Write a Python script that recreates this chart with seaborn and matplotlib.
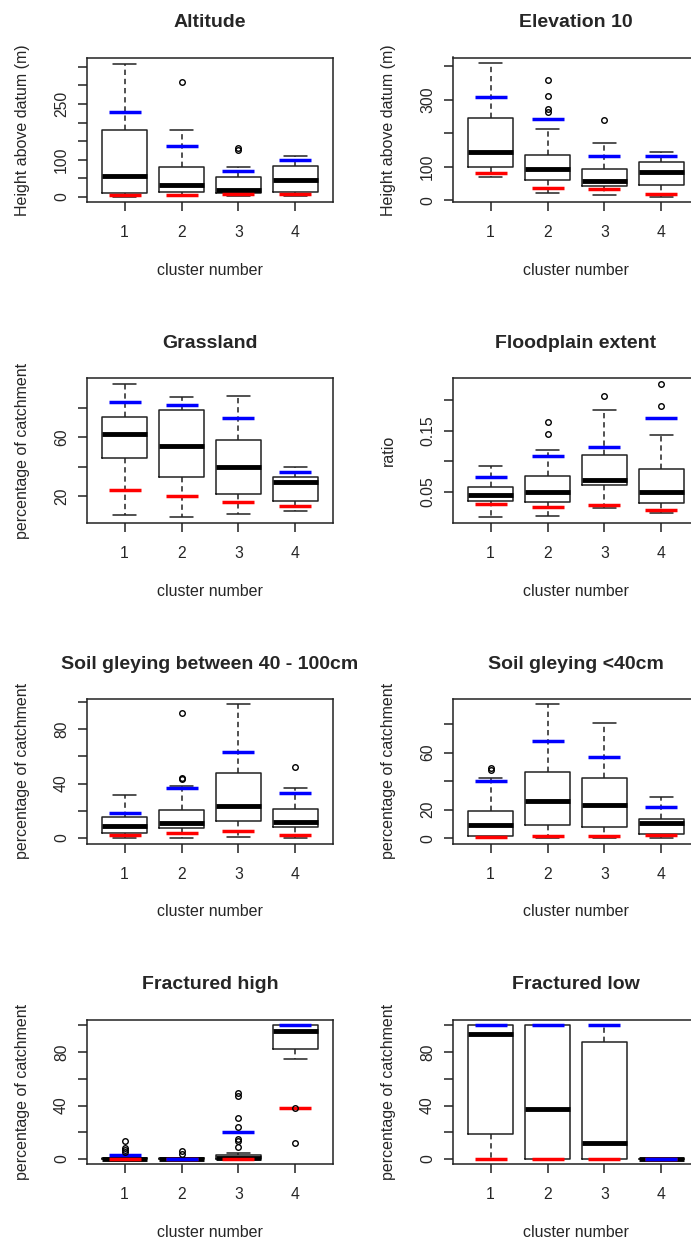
import matplotlib
matplotlib.use("Agg")
import matplotlib.pyplot as plt
import seaborn as sns

clusters = [1, 2, 3, 4]

# Five-number summaries per cluster: [lower whisker, Q1, median, Q3, upper whisker]
altitude_stats = [[0, 10.7, 57, 180, 357], [2, 13, 31, 81, 180],
                  [4, 12, 19, 54, 81], [2, 14, 47, 84, 110]]
altitude_outliers = [[], [310], [127, 131], []]
altitude_low = [6, 6, 8, 7]
altitude_high = [229, 138, 69, 100]

elevation_stats = [[69, 98, 143, 244, 408], [22, 60, 93, 134, 212],
                   [16, 42, 58, 94, 172], [11, 46, 84, 114, 144]]
elevation_outliers = [[], [358, 310, 272, 262], [240], []]
elevation_low = [80, 36, 33, 19]
elevation_high = [307, 243, 131, 131]

grassland_stats = [[7.0, 45.9, 62.0, 74.1, 96.4], [5.9, 33.2, 53.9, 78.2, 87.0],
                   [8.2, 21.4, 40.0, 58.4, 88.2], [9.8, 16.8, 30.0, 33.4, 40.2]]
grassland_outliers = [[], [], [], []]
grassland_low = [24.1, 20.0, 16.1, 13.4]
grassland_high = [84.1, 82.0, 73.0, 36.6]

floodplain_stats = [[0.0082, 0.034, 0.045, 0.0577, 0.0923],
                    [0.0104, 0.033, 0.0495, 0.0764, 0.119],
                    [0.023, 0.0604, 0.0692, 0.1104, 0.1835],
                    [0.0154, 0.0308, 0.0495, 0.0874, 0.1423]]
floodplain_outliers = [[], [0.164, 0.145], [0.2066], [0.227, 0.1896]]
floodplain_low = [0.029, 0.0242, 0.0286, 0.0192]
floodplain_high = [0.0736, 0.108, 0.1236, 0.1709]

gley_mid_stats = [[0, 3.7, 8.7, 15.4, 31.3], [0, 6.7, 10.9, 20.6, 38.0],
                  [0.5, 12.4, 23.4, 47.8, 98.8], [0, 7.5, 11.7, 20.9, 36.8]]
gley_mid_outliers = [[], [92, 44, 43.3], [], [52.5]]
gley_mid_low = [2.2, 3.0, 4.7, 1.5]
gley_mid_high = [17.9, 37.0, 63.2, 33.1]

gley_top_stats = [[0, 1.4, 9.5, 19.4, 42.1], [0, 9.2, 26.3, 46.6, 94.0],
                  [0, 8.0, 23.4, 41.9, 81.0], [0, 2.8, 10.4, 13.5, 28.9]]
gley_top_outliers = [[49.5, 47.8], [], [], []]
gley_top_low = [0.7, 1.2, 1.2, 1.9]
gley_top_high = [40.2, 68.2, 57.0, 21.8]

frac_high_stats = [[0, 0, 0, 1.0, 2.5], [0, 0, 0, 0.5, 1.0],
                   [0, 0, 0.8, 3.3, 4.8], [75, 82.6, 95.7, 100, 100]]
frac_high_outliers = [[13.4, 8.6, 6.8, 5.0], [6.0, 3.5],
                      [49.6, 46.9, 30.5, 24.2, 14.9, 13.6, 9.1], [38.3, 12.3]]
frac_high_low = [0, 0, 0, 38.3]
frac_high_high = [3.0, 0, 20.4, 100]

frac_low_stats = [[0, 18.4, 93.5, 100, 100], [0, 0, 37.5, 100, 100],
                  [0, 0, 12.3, 87.7, 100], [0, 0, 0, 0, 0]]
frac_low_outliers = [[], [], [], []]
frac_low_low = [0, 0, 0, 0]
frac_low_high = [100, 100, 100, 0]

# y-axis ticks and the labels printed at them (blank where labels are skipped)
altitude_ticks = [0, 50, 100, 150, 200, 250, 300, 350]
altitude_ticklabels = ["0", "", "100", "", "", "250", "", ""]
elevation_ticks = [0, 100, 200, 300, 400]
elevation_ticklabels = ["0", "100", "", "300", ""]
grassland_ticks = [20, 40, 60, 80]
grassland_ticklabels = ["20", "", "60", ""]
floodplain_ticks = [0.05, 0.10, 0.15, 0.20]
floodplain_ticklabels = ["0.05", "", "0.15", ""]
gley_mid_ticks = [0, 20, 40, 60, 80, 100]
gley_mid_ticklabels = ["0", "", "40", "", "80", ""]
gley_top_ticks = [0, 20, 40, 60, 80]
gley_top_ticklabels = ["0", "20", "", "60", ""]
frac_ticks = [0, 20, 40, 60, 80, 100]
frac_ticklabels = ["0", "", "40", "", "80", ""]

sns.set_style("white")
plt.rcParams["font.family"] = ["Liberation Sans", "DejaVu Sans"]

panels = [
    ("Altitude", "Height above datum (m)", altitude_stats, altitude_outliers,
     altitude_low, altitude_high, (-13.4, 375), altitude_ticks, altitude_ticklabels),
    ("Elevation 10", "Height above datum (m)", elevation_stats, elevation_outliers,
     elevation_low, elevation_high, (-5, 425), elevation_ticks, elevation_ticklabels),
    ("Grassland", "percentage of catchment", grassland_stats, grassland_outliers,
     grassland_low, grassland_high, (2.05, 100), grassland_ticks, grassland_ticklabels),
    ("Floodplain extent", "ratio", floodplain_stats, floodplain_outliers,
     floodplain_low, floodplain_high, (-0.001, 0.2357), floodplain_ticks, floodplain_ticklabels),
    ("Soil gleying between 40 - 100cm", "percentage of catchment", gley_mid_stats,
     gley_mid_outliers, gley_mid_low, gley_mid_high, (-4.5, 102.5), gley_mid_ticks,
     gley_mid_ticklabels),
    ("Soil gleying <40cm", "percentage of catchment", gley_top_stats, gley_top_outliers,
     gley_top_low, gley_top_high, (-3.8, 97.5), gley_top_ticks, gley_top_ticklabels),
    ("Fractured high", "percentage of catchment", frac_high_stats, frac_high_outliers,
     frac_high_low, frac_high_high, (-4, 104), frac_ticks, frac_ticklabels),
    ("Fractured low", "percentage of catchment", frac_low_stats, frac_low_outliers,
     frac_low_low, frac_low_high, (-4, 104), frac_ticks, frac_ticklabels),
]

W, H = 691, 1241
fig = plt.figure(figsize=(W / 100, H / 100), dpi=100)
fig.patch.set_facecolor("white")

col_left = [87, 453]
ax_w, ax_h = 246, 144.5
row_top = [57.5, 378.3, 699.1, 1019.9]
frame = "#222222"

for i, (title, ylabel, stats, outl, low, high, ylim, yt, ytl) in enumerate(panels):
    r, c = divmod(i, 2)
    ax = fig.add_axes([col_left[c] / W, (H - row_top[r] - ax_h) / H, ax_w / W, ax_h / H])

    bstats = [dict(whislo=s[0], q1=s[1], med=s[2], q3=s[3], whishi=s[4], fliers=f)
              for s, f in zip(stats, outl)]
    ax.bxp(bstats, positions=clusters, widths=0.8, showfliers=True,
           boxprops=dict(color=frame, lw=1.1),
           medianprops=dict(color="black", lw=3.5, solid_capstyle="butt"),
           whiskerprops=dict(color=frame, lw=1.1, linestyle=(0, (3.5, 2.5))),
           capprops=dict(color=frame, lw=1.1),
           flierprops=dict(marker="o", markerfacecolor="none", markeredgecolor="black",
                           markersize=4.0, markeredgewidth=1.0, zorder=5))

    sns.scatterplot(x=clusters, y=low, marker="_", s=530, color="red",
                    linewidth=2.5, ax=ax, zorder=4, legend=False)
    sns.scatterplot(x=clusters, y=high, marker="_", s=530, color="blue",
                    linewidth=2.5, ax=ax, zorder=4, legend=False)

    ax.set_xlim(0.34, 4.66)
    ax.set_ylim(*ylim)
    ax.set_xticks(clusters)
    ax.set_xticklabels([str(k) for k in clusters], fontsize=11.3)
    ax.set_yticks(yt)
    ax.set_yticklabels(ytl, fontsize=11.3, rotation=90, va="center")
    ax.tick_params(axis="both", direction="out", length=6.5, width=1.1,
                   color=frame, left=True, bottom=True)
    ax.tick_params(axis="x", pad=10)
    ax.tick_params(axis="y", pad=6.5)
    for sp in ax.spines.values():
        sp.set_visible(True)
        sp.set_color(frame)
        sp.set_linewidth(1.1)

    ax.set_title(title, fontsize=14, fontweight="bold", pad=22)
    ax.set_xlabel("cluster number", fontsize=11.5, labelpad=16.5)
    ax.set_ylabel(ylabel, fontsize=11.5, labelpad=17)

fig.savefig("out.png", dpi=100, facecolor="white")
